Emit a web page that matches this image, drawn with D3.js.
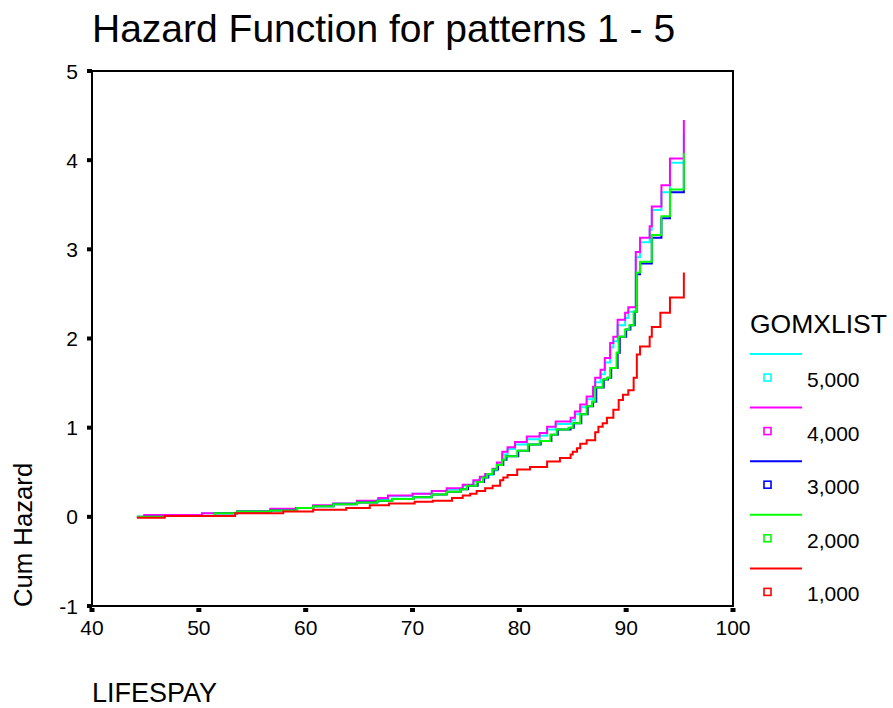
<!DOCTYPE html>
<html><head><meta charset="utf-8">
<script src="https://cdn.jsdelivr.net/npm/d3@7"></script>
<style>
body{margin:0;background:#fff;}
text{font-family:Arial,"Liberation Sans",sans-serif;fill:#000;}
</style></head>
<body><svg id="c" width="893" height="708"></svg>
<script>
const xTicks = [40, 50, 60, 70, 80, 90, 100];
const yTicks = [-1, 0, 1, 2, 3, 4, 5];
const legendLabels = ["5,000", "4,000", "3,000", "2,000", "1,000"];
const seriesColors = ["#00ffff", "#ff00ff", "#0000ff", "#00ff00", "#ff0000"];

const ages5000 = [44.8, 50.3, 53.6, 56.7, 59.1, 60.7, 62.6, 64.8, 66.8, 67.7, 70.0, 71.8, 73.2, 74.7, 75.7, 76.3, 76.8, 77.5, 77.9, 78.4, 78.9, 79.6, 80.7, 81.9, 82.6, 83.4, 84.8, 85.2, 85.7, 86.3, 86.9, 87.1, 87.6, 88.0, 88.5, 88.8, 89.2, 89.9, 90.2, 90.9, 91.3, 92.2, 92.4, 93.3, 94.1, 95.4];
const haz5000 = [0.01, 0.04, 0.06, 0.08, 0.10, 0.12, 0.15, 0.17, 0.20, 0.23, 0.26, 0.29, 0.31, 0.35, 0.40, 0.43, 0.47, 0.52, 0.59, 0.70, 0.76, 0.81, 0.87, 0.91, 0.98, 1.04, 1.08, 1.15, 1.23, 1.32, 1.42, 1.51, 1.60, 1.73, 1.90, 1.97, 2.15, 2.23, 2.30, 2.91, 3.08, 3.22, 3.44, 3.64, 3.97, 4.30];

const ages4000 = [44.8, 50.3, 53.6, 56.7, 59.1, 60.7, 62.6, 64.8, 66.8, 67.7, 70.0, 71.8, 73.2, 74.7, 75.7, 76.3, 76.8, 77.5, 77.9, 78.4, 78.9, 79.6, 80.7, 81.9, 82.6, 83.4, 84.8, 85.2, 85.7, 86.3, 86.9, 87.1, 87.6, 88.0, 88.5, 88.8, 89.2, 89.9, 90.2, 90.9, 91.3, 92.2, 92.4, 93.3, 94.1, 95.4];
const haz4000 = [0.02, 0.04, 0.06, 0.09, 0.10, 0.13, 0.15, 0.18, 0.21, 0.24, 0.26, 0.29, 0.32, 0.36, 0.41, 0.45, 0.48, 0.54, 0.61, 0.73, 0.78, 0.84, 0.90, 0.94, 1.01, 1.07, 1.11, 1.18, 1.26, 1.35, 1.46, 1.56, 1.65, 1.78, 1.95, 2.02, 2.21, 2.29, 2.35, 2.97, 3.13, 3.26, 3.48, 3.72, 4.02, 4.45];

const ages3000 = [44.2, 46.8, 51.5, 53.6, 56.7, 59.2, 60.7, 62.6, 64.8, 66.7, 68.1, 70.1, 71.8, 73.2, 74.5, 75.2, 76.1, 76.7, 77.1, 77.6, 78.0, 78.5, 78.8, 79.9, 80.9, 82.0, 83.0, 83.6, 84.8, 85.1, 85.8, 86.4, 86.9, 87.2, 87.9, 88.3, 88.6, 89.2, 89.4, 90.0, 90.4, 90.8, 91.0, 91.3, 92.4, 93.3, 94.1, 95.4];
const haz3000 = [0.00, 0.01, 0.04, 0.06, 0.07, 0.10, 0.12, 0.14, 0.16, 0.18, 0.20, 0.22, 0.25, 0.28, 0.31, 0.35, 0.39, 0.44, 0.48, 0.53, 0.58, 0.64, 0.68, 0.74, 0.81, 0.85, 0.92, 0.98, 1.00, 1.05, 1.15, 1.24, 1.29, 1.45, 1.54, 1.56, 1.67, 1.84, 2.02, 2.10, 2.15, 2.30, 2.72, 2.84, 3.13, 3.35, 3.64, 4.00];

const ages2000 = [44.2, 46.8, 51.5, 53.6, 56.7, 59.2, 60.7, 62.6, 64.8, 66.7, 68.1, 70.1, 71.8, 73.2, 74.5, 75.1, 76.0, 76.6, 77.0, 77.5, 77.9, 78.4, 78.7, 79.8, 80.8, 81.9, 82.9, 83.5, 84.6, 85.0, 85.7, 86.3, 86.8, 87.1, 87.8, 88.2, 88.5, 89.1, 89.3, 89.9, 90.3, 90.7, 91.0, 91.3, 92.4, 93.3, 94.1, 95.4];
const haz2000 = [0.00, 0.01, 0.04, 0.06, 0.07, 0.10, 0.12, 0.14, 0.16, 0.18, 0.20, 0.22, 0.25, 0.28, 0.31, 0.35, 0.39, 0.44, 0.48, 0.53, 0.58, 0.64, 0.68, 0.74, 0.81, 0.85, 0.92, 0.98, 1.00, 1.05, 1.15, 1.24, 1.29, 1.45, 1.54, 1.56, 1.67, 1.84, 2.02, 2.10, 2.15, 2.30, 2.74, 2.86, 3.16, 3.37, 3.67, 4.08];

const ages1000 = [44.2, 46.8, 53.4, 57.9, 60.7, 63.8, 66.0, 67.8, 70.2, 71.9, 73.7, 74.7, 75.4, 76.0, 76.8, 77.5, 78.2, 78.5, 78.9, 79.8, 81.0, 82.6, 83.8, 84.8, 85.0, 85.4, 85.7, 86.3, 87.1, 87.4, 87.8, 88.2, 88.8, 89.3, 89.7, 90.2, 90.7, 91.0, 91.3, 92.2, 92.4, 93.2, 94.1, 95.4];
const haz1000 = [-0.01, 0.01, 0.04, 0.06, 0.08, 0.10, 0.13, 0.15, 0.17, 0.18, 0.21, 0.24, 0.26, 0.29, 0.32, 0.35, 0.41, 0.44, 0.47, 0.53, 0.56, 0.62, 0.66, 0.70, 0.73, 0.77, 0.82, 0.86, 0.95, 1.01, 1.05, 1.11, 1.20, 1.31, 1.37, 1.42, 1.56, 1.82, 1.91, 2.02, 2.13, 2.29, 2.46, 2.74];

const series = [
  {ages: ages5000, haz: haz5000},
  {ages: ages4000, haz: haz4000},
  {ages: ages3000, haz: haz3000},
  {ages: ages2000, haz: haz2000},
  {ages: ages1000, haz: haz1000}
];

const svg = d3.select("#c");
const L = 92, R = 733, T = 71, B = 606;
const x = d3.scaleLinear().domain([40, 100]).range([L, R]);
const y = d3.scaleLinear().domain([-1, 5]).range([B, T]);

// title
svg.append("text").attr("x", 92).attr("y", 42).style("font-size", "39px").text("Hazard Function for patterns 1 - 5");

// frame
svg.append("rect").attr("x", L).attr("y", T).attr("width", R - L).attr("height", B - T)
  .attr("fill", "none").attr("stroke", "#000").attr("stroke-width", 2);

// tick squares
svg.selectAll(".yt").data(yTicks).enter().append("rect")
  .attr("x", L - 5).attr("y", d => y(d) - 2).attr("width", 5).attr("height", 4).attr("fill", "#000");
svg.selectAll(".xt").data(xTicks).enter().append("rect")
  .attr("x", d => x(d) - 2.5).attr("y", B + 2).attr("width", 5).attr("height", 4).attr("fill", "#000");

// tick labels
svg.selectAll(".yl").data(yTicks).enter().append("text")
  .attr("x", 78).attr("y", d => y(d) + 7.5).attr("text-anchor", "end").style("font-size", "21px").text(d => d);
svg.selectAll(".xl").data(xTicks).enter().append("text")
  .attr("x", d => x(d)).attr("y", 635).attr("text-anchor", "middle").style("font-size", "21px").text(d => d);

// axis titles
svg.append("text").attr("transform", "translate(32,607) rotate(-90)").style("font-size", "25.7px").text("Cum Hazard");
svg.append("text").attr("x", 92).attr("y", 702).style("font-size", "27px").text("LIFESPAY");

// lines
const line = d3.line().x(d => x(d[0])).y(d => y(d[1])).curve(d3.curveStepAfter);
series.forEach((s, i) => {
  const pts = s.ages.map((a, j) => [a, s.haz[j]]);
  svg.append("path").attr("d", line(pts)).attr("fill", "none")
    .attr("stroke", seriesColors[i]).attr("stroke-width", 2);
});

// legend
svg.append("text").attr("x", 750).attr("y", 333).style("font-size", "26.5px").text("GOMXLIST");
const lg = svg.selectAll(".lg").data(legendLabels).enter().append("g")
  .attr("transform", (d, i) => `translate(0,${354 + i * 53.6})`);
lg.append("line").attr("x1", 750).attr("x2", 802).attr("y1", 0).attr("y2", 0)
  .attr("stroke", (d, i) => seriesColors[i]).attr("stroke-width", 2);
lg.append("rect").attr("x", 764).attr("y", 20).attr("width", 7).attr("height", 7)
  .attr("fill", "none").attr("stroke", (d, i) => seriesColors[i]).attr("stroke-width", 1.6);
lg.append("text").attr("x", 807).attr("y", 33).style("font-size", "21px").text(d => d);
</script>
</body></html>
